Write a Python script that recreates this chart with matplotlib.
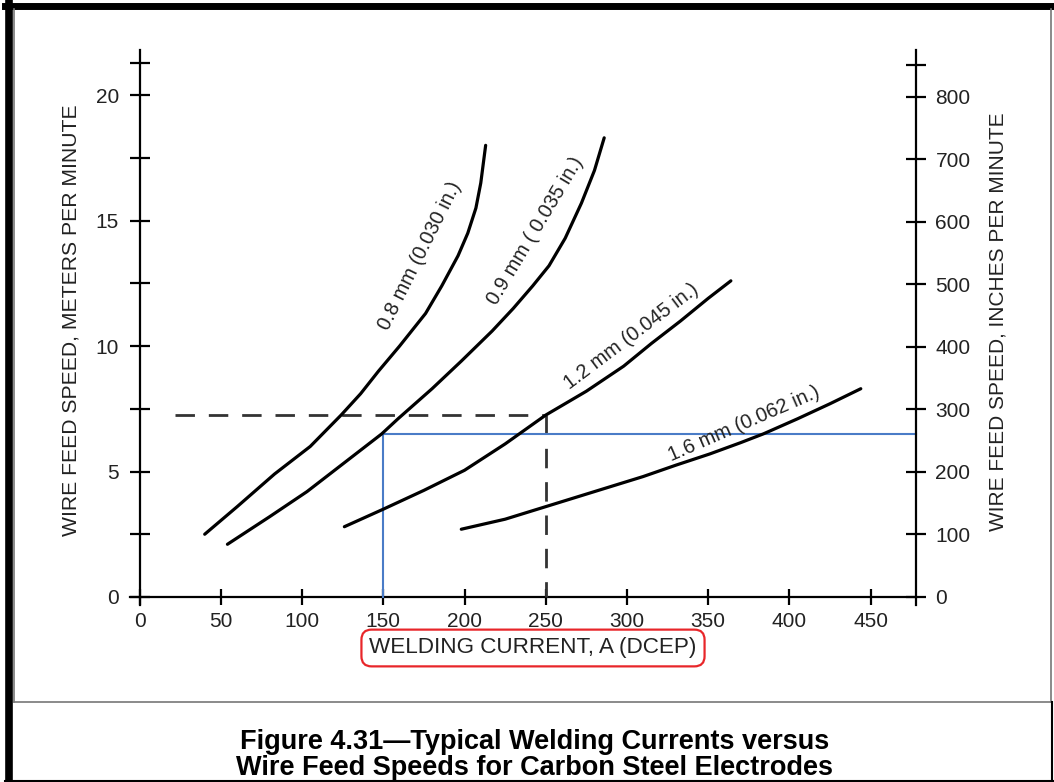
import matplotlib
matplotlib.use("Agg")
import matplotlib.pyplot as plt
from matplotlib.lines import Line2D

plt.rcParams['font.family'] = ['Liberation Sans', 'DejaVu Sans']

# wire feed speed (m/min) vs welding current (A)
amps_08 = [40, 60, 83, 105, 124, 136, 147, 160, 176, 186, 196, 202, 207, 210, 213]
mpm_08 = [2.5, 3.6, 4.9, 6.0, 7.25, 8.1, 9.0, 10.0, 11.3, 12.4, 13.6, 14.5, 15.5, 16.5, 18.0]

amps_09 = [54, 80, 103, 125, 149, 159, 180, 198, 217, 230, 242, 252, 262, 272, 280, 286]
mpm_09 = [2.1, 3.2, 4.2, 5.3, 6.5, 7.1, 8.3, 9.4, 10.6, 11.5, 12.4, 13.2, 14.3, 15.7, 17.0, 18.3]

amps_12 = [126, 150, 175, 200, 225, 250, 275, 298, 315, 333, 350, 364]
mpm_12 = [2.8, 3.5, 4.25, 5.05, 6.1, 7.25, 8.2, 9.2, 10.1, 11.0, 11.9, 12.6]

amps_16 = [198, 225, 250, 280, 310, 330, 351, 370, 384, 405, 425, 444]
mpm_16 = [2.7, 3.1, 3.6, 4.2, 4.8, 5.25, 5.7, 6.15, 6.5, 7.1, 7.7, 8.3]

curve_labels = ["0.8 mm (0.030 in.)", "0.9 mm ( 0.035 in.)",
                "1.2 mm (0.045 in.)", "1.6 mm (0.062 in.)"]
label_pos = [(172.3, 13.6), (243.3, 14.6), (302.5, 10.4), (372, 6.9)]
label_rot = [63.5, 59, 37, 23.5]

x_ticks = [0, 50, 100, 150, 200, 250, 300, 350, 400, 450]
left_major = [0, 5, 10, 15, 20]
left_minor = [2.5, 7.5, 12.5, 17.5, 21.3]
right_ticks = [0, 100, 200, 300, 400, 500, 600, 700, 800, 851]

# example readings
dash_amps, dash_mpm = 250, 7.25
blue_amps, blue_mpm = 150, 6.5

fig = plt.figure(figsize=(10.54, 7.82), dpi=100)
ax = fig.add_axes([130 / 1054, 1 - 604.5 / 782, 786 / 1054, 554.5 / 782])
ax.set_xlim(-6, 478)
ax.set_ylim(-0.3, 21.8)

ax2 = ax.twinx()
ax2.set_ylim(-12, 875)

for a, m in [(amps_08, mpm_08), (amps_09, mpm_09), (amps_12, mpm_12), (amps_16, mpm_16)]:
    ax.plot(a, m, color='black', lw=2.3, solid_capstyle='round', solid_joinstyle='round',
            zorder=4)

for txt, (px, py), rot in zip(curve_labels, label_pos, label_rot):
    ax.text(px, py, txt, rotation=rot, rotation_mode='anchor', ha='center', va='center',
            fontsize=14.5, color='#222222', zorder=5)

# dashed guide
ax.plot([21.7, dash_amps], [dash_mpm, dash_mpm], color='#333333', lw=2, dashes=(7, 5), zorder=3)
ax.plot([dash_amps, dash_amps], [dash_mpm, 0], color='#333333', lw=2, dashes=(7, 5), zorder=3)
# blue guide
ax.plot([blue_amps, blue_amps], [0, blue_mpm], color='#4a7cc7', lw=1.5, zorder=3)
ax.plot([blue_amps, 478], [blue_mpm, blue_mpm], color='#4a7cc7', lw=1.5, zorder=3,
        clip_on=False)

for s in ['top', 'right']:
    ax.spines[s].set_visible(False)
ax.spines['left'].set_position(('data', 0))
ax.spines['bottom'].set_position(('data', 0))
ax.spines['left'].set_linewidth(1.6)
ax.spines['bottom'].set_linewidth(1.6)
for s in ['top', 'left', 'bottom']:
    ax2.spines[s].set_visible(False)
ax2.spines['right'].set_linewidth(1.6)

ax.set_xticks(x_ticks)
ax.set_yticks(left_major)
ax.set_yticks(left_minor, minor=True)
ax.tick_params(axis='x', direction='inout', length=11.5, width=1.6, pad=5, labelsize=15,
               labelcolor='#222222')
ax.tick_params(axis='y', which='both', direction='inout', length=14, width=1.6, pad=8,
               labelsize=15, labelcolor='#222222')
ax2.set_yticks(right_ticks, ['0', '100', '200', '300', '400', '500', '600', '700', '800', ''])
ax2.tick_params(axis='y', direction='inout', length=15, width=1.6, pad=6.5, labelsize=15,
                labelcolor='#222222')

ax.set_ylabel("WIRE FEED SPEED, METERS PER MINUTE", fontsize=15.2, color='#222222')
ax.yaxis.set_label_coords(81 / 1054, 1 - 320 / 782, transform=fig.transFigure)
ax2.set_ylabel("WIRE FEED SPEED, INCHES PER MINUTE", fontsize=15, color='#222222')
ax2.yaxis.set_label_coords(988 / 1054, 1 - 322 / 782, transform=fig.transFigure)

fig.text(533 / 1054, 1 - 648 / 782, "WELDING CURRENT, A (DCEP)", ha='center', va='center',
         fontsize=16.2, color='#222222',
         bbox=dict(boxstyle='round,pad=0.35,rounding_size=0.45', ec='#e8262a', fc='white', lw=1.6))

fig.text(535 / 1054, 1 - 742 / 782, "Figure 4.31\u2014Typical Welding Currents versus",
         ha='center', va='center', fontsize=19.5, fontweight='bold')
fig.text(535 / 1054, 1 - 768 / 782, "Wire Feed Speeds for Carbon Steel Electrodes",
         ha='center', va='center', fontsize=19.5, fontweight='bold')

# page frame
W, H = 1054, 782
def fline(x0, y0, x1, y1, lw, c):
    fig.add_artist(Line2D([x0 / W, x1 / W], [1 - y0 / H, 1 - y1 / H], lw=lw, color=c,
                          transform=fig.transFigure))

fline(5, 6, 1054, 6, 5, 'black')
fline(8.5, 3, 8.5, 782, 5.5, 'black')
fline(14, 9, 14, 702, 1.2, '#777777')
fline(14, 702, 1051, 702, 1.2, '#777777')
fline(1051, 9, 1051, 702, 1.2, '#777777')
fline(1052, 702, 1052, 782, 1.5, 'black')
fline(5, 781, 1054, 781, 1.5, 'black')

fig.savefig("out.png", dpi=100)
